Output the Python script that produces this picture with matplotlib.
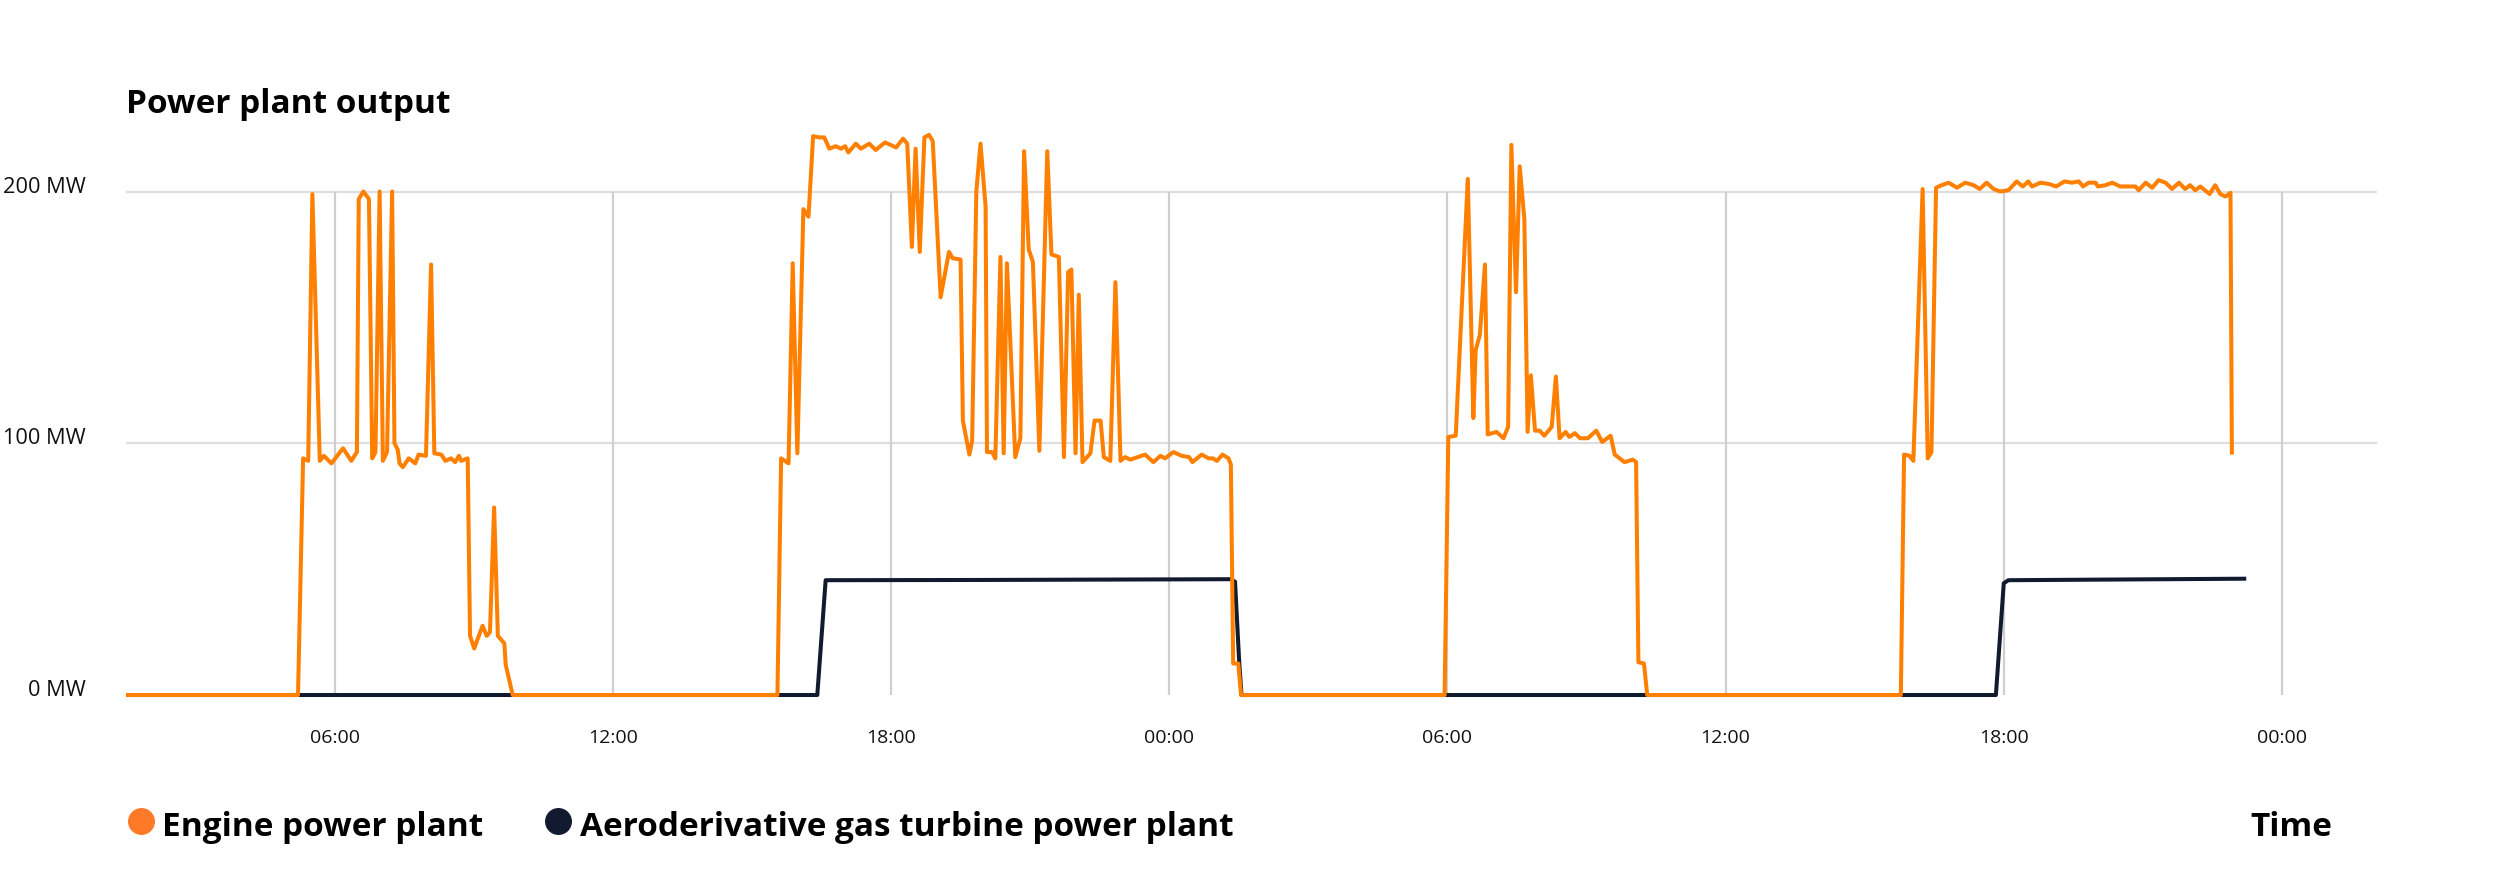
import numpy as np
import pandas as pd
import matplotlib
matplotlib.use("Agg")
import matplotlib.pyplot as plt
import matplotlib.dates as mdates
from matplotlib import transforms

plt.rcParams['font.family'] = ['Open Sans', 'DejaVu Sans']

# hours since midnight of the first day, and output in MW
engine_hours = [1.5, 5.21, 5.32, 5.43, 5.52, 5.68, 5.77, 5.93, 6.18, 6.36, 6.48, 6.52, 6.62, 6.74,
                6.81, 6.88, 6.97, 7.04, 7.13, 7.24, 7.29, 7.36, 7.40, 7.47, 7.60, 7.74, 7.81, 7.97,
                8.08, 8.15, 8.30, 8.39, 8.51, 8.60, 8.68, 8.73, 8.87, 8.92, 9.01, 9.19, 9.28, 9.35,
                9.44, 9.52, 9.66, 9.69, 9.84,
                15.55, 15.63, 15.79, 15.88, 15.98, 16.11, 16.22, 16.32, 16.45, 16.56, 16.67, 16.81,
                16.92, 17.01, 17.08, 17.24, 17.35, 17.53, 17.67, 17.87, 18.11, 18.26, 18.35, 18.45,
                18.53, 18.62, 18.72, 18.82, 18.90, 19.07, 19.25, 19.33, 19.50, 19.55, 19.69, 19.75,
                19.84, 19.93, 20.04, 20.07, 20.18, 20.25, 20.36, 20.43, 20.50, 20.68, 20.79, 20.87,
                20.97, 21.06, 21.20, 21.37, 21.46, 21.62, 21.73, 21.82, 21.89, 21.98, 22.05, 22.13,
                22.30, 22.39, 22.52, 22.59, 22.73, 22.84, 22.95, 23.05, 23.16, 23.48, 23.66, 23.81,
                23.91, 24.09, 24.27, 24.43, 24.50, 24.70, 24.85, 24.94, 25.03, 25.15, 25.28, 25.33,
                25.38, 25.49, 25.55,
                29.94, 30.02, 30.18, 30.44, 30.56, 30.61, 30.70, 30.81, 30.87, 31.06, 31.21, 31.31,
                31.38, 31.48, 31.56, 31.66, 31.73, 31.80, 31.89, 31.99, 32.09, 32.25, 32.34, 32.42,
                32.55, 32.63, 32.75, 32.86, 33.03, 33.21, 33.34, 33.52, 33.61, 33.82, 34.00, 34.07,
                34.12, 34.24, 34.31,
                39.78, 39.85, 39.97, 40.05, 40.25, 40.36, 40.44, 40.54, 40.66, 40.81, 40.99, 41.17,
                41.35, 41.48, 41.63, 41.78, 41.92, 42.10, 42.28, 42.41, 42.53, 42.61, 42.79, 42.97,
                43.13, 43.31, 43.47, 43.62, 43.71, 43.83, 43.98, 44.03, 44.19, 44.34, 44.51, 44.84,
                44.91, 45.06, 45.20, 45.34, 45.49, 45.63, 45.78, 45.91, 46.02, 46.13, 46.24, 46.44,
                46.56, 46.67, 46.78, 46.89, 46.92]
engine_mw = [0, 0, 94, 93, 199, 93, 95, 92, 98, 93, 96.5, 197, 200, 197,
             94, 96.5, 200, 93, 96.5, 200, 100, 97.5, 92, 90.5, 94, 92, 95.5, 95,
             171, 96, 95.5, 93, 94, 92.5, 95, 93, 94, 23.5, 18.5, 27.5, 23.5, 25,
             74.5, 23.5, 20.5, 12, 0,
             0, 94, 92, 171.5, 96, 193, 190, 222, 221.5, 221.5, 217, 218,
             217, 218, 215.5, 219, 217, 219, 216.5, 219.5, 217.5, 221, 219, 178,
             217, 176, 221.5, 222.5, 220, 158, 176, 173.5, 173, 109, 95.5, 101,
             200, 219, 194, 96.5, 96.5, 94, 174, 96, 171.5, 94.5, 102, 216,
             177, 172, 97, 216, 175, 174, 94.5, 168, 169, 96, 159, 92.5,
             96, 109, 109, 94.5, 93, 164, 93, 94.5, 93.5, 95.5, 92.5, 95,
             94, 96.5, 95, 94.5, 92.5, 95.5, 94, 94, 93, 95.5, 94, 91.5,
             12.5, 12.5, 0,
             0, 102.5, 103, 205, 110, 137, 143, 171, 103.5, 104.5, 102, 106.5,
             218.5, 160, 210, 189, 104.5, 127, 105, 105, 103, 106.5, 126.5, 102,
             104.5, 102.5, 104, 102, 102, 105, 100.5, 103, 95.5, 92.5, 93.5, 92.5,
             13, 12.5, 0,
             0, 95.5, 95, 93, 201, 94, 96.5, 201.5, 202.5, 203.5, 201.5, 203.5,
             202.5, 201, 203.5, 201, 200, 200.5, 204, 202, 204, 202, 203.5, 203,
             202, 204, 203.5, 204, 202, 203.5, 203.5, 202, 202.5, 203.5, 202, 202,
             200.5, 203.5, 201.5, 204.5, 203.5, 201, 203.5, 201, 202.5, 200.5, 202, 199,
             202.5, 199, 198, 199.5, 95.5]

turbine_hours = [1.5, 16.41, 16.59, 20.0, 25.33, 25.42, 25.51, 25.56, 41.83, 42.0, 42.1, 47.23]
turbine_mw = [0, 0, 45.6, 45.7, 46.0, 45.0, 13.0, 0, 0, 44.4, 45.6, 46.2]

series_names = ['Engine power plant', 'Aeroderivative gas turbine power plant']
series_colors = ['#ff8000', '#111a2e']
legend_colors = ['#ff7a28', '#111a2e']
y_ticks = [0, 100, 200]
y_tick_labels = ['0 MW', '100 MW', '200 MW']

day0 = pd.Timestamp('2024-01-01')
engine_t = day0 + pd.to_timedelta(engine_hours, unit='h')
turbine_t = day0 + pd.to_timedelta(turbine_hours, unit='h')

fig = plt.figure(figsize=(25, 8.75), dpi=100)
ax = fig.add_axes([0.0504, 0.1942, 0.9004, 0.6675])

ax.plot(turbine_t, turbine_mw, color=series_colors[1], lw=2.9,
        solid_joinstyle='round', solid_capstyle='butt', zorder=3)
ax.plot(engine_t, engine_mw, color=series_colors[0], lw=2.9,
        solid_joinstyle='round', solid_capstyle='butt', zorder=4)

ax.set_xlim(day0 + pd.Timedelta(hours=1.5), day0 + pd.Timedelta(hours=50.05))
ax.set_ylim(-4, 228)

for s in ax.spines.values():
    s.set_visible(False)

ax.xaxis.set_major_locator(mdates.HourLocator(byhour=[0, 6, 12, 18]))
ax.xaxis.set_major_formatter(mdates.DateFormatter('%H:%M'))
ax.tick_params(axis='x', length=0, pad=17, labelsize=14, labelcolor='#111111')
ax.set_yticks([])

for v in y_ticks[1:]:
    ax.axhline(v, color='#dedede', lw=1.6, zorder=1)
xt = ax.get_xticks()
ax.vlines(xt, 0, 200, color='#cfcfcf', lw=1.6, zorder=1)

lab_tr = transforms.offset_copy(ax.get_yaxis_transform(), fig=fig, x=-40, y=-1, units='dots')
for v, lab in zip(y_ticks, y_tick_labels):
    ax.text(0, v, lab, transform=lab_tr, ha='right', va='baseline',
            fontsize=15.7, color='#111111')

fig.text(126 / 2500, 1 - 112.7 / 875, 'Power plant output', fontsize=24,
         fontweight='bold', ha='left', va='baseline', color='black')

# legend along the bottom
leg_y = 1 - 821 / 875
for cx, tx, col, name in zip([141, 558], [162, 580], legend_colors, series_names):
    fig.add_artist(plt.Line2D([cx / 2500], [leg_y], marker='o', markersize=18.4,
                              color=col, linestyle='none', transform=fig.transFigure))
    fig.text(tx / 2500, 1 - 836 / 875, name, fontsize=24, fontweight='bold',
             ha='left', va='baseline', color='black')

fig.text(2250.7 / 2500, 1 - 836 / 875, 'Time', fontsize=24, fontweight='bold',
         ha='left', va='baseline', color='black')

fig.savefig('out.png', dpi=100, facecolor='white')
